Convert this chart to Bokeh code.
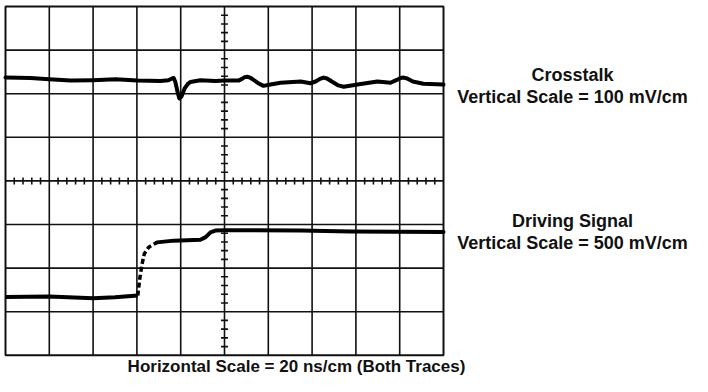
from bokeh.plotting import figure
from bokeh.models import Range1d
from bokeh.core.properties import value
from bokeh.embed import file_html
from bokeh.resources import INLINE

# Oscilloscope graticule: 10 x 8 divisions (cm)
n_cols = 10
n_rows = 8

# Crosstalk trace (time in divisions, level in divisions from bottom of graticule)
xt_t = [0.0, 0.57, 1.0, 1.48, 2.0, 2.51, 3.01, 3.54, 3.72, 3.8, 3.84, 3.88, 3.93, 3.97, 4.02,
        4.09, 4.16, 4.22, 4.45, 4.79, 5.0, 5.32, 5.4, 5.46, 5.52, 5.58, 5.66, 5.77, 5.89,
        6.05, 6.28, 6.74, 6.96, 7.08, 7.18, 7.26, 7.34, 7.45, 7.6, 7.72, 8.04, 8.49, 8.79,
        8.92, 9.02, 9.09, 9.17, 9.3, 9.54, 10.0]
xt_v = [6.37, 6.36, 6.33, 6.30, 6.31, 6.33, 6.30, 6.29, 6.31, 6.35, 6.36, 6.26, 6.03, 5.89,
        5.94, 6.12, 6.22, 6.27, 6.31, 6.29, 6.30, 6.30, 6.34, 6.38, 6.39, 6.37, 6.32, 6.24,
        6.18, 6.21, 6.25, 6.28, 6.24, 6.28, 6.34, 6.37, 6.35, 6.28, 6.19, 6.16, 6.21, 6.28,
        6.25, 6.31, 6.36, 6.37, 6.35, 6.28, 6.23, 6.21]

# Driving signal trace
dr_t = [0.0, 1.0, 2.0, 2.5, 3.02, 3.07, 3.12, 3.17, 3.27, 3.46, 3.84, 4.45, 4.57, 4.68,
        4.79, 5.0, 6.74, 7.88, 10.0]
dr_v = [1.34, 1.35, 1.31, 1.33, 1.37, 1.79, 2.10, 2.33, 2.48, 2.59, 2.63, 2.65, 2.71, 2.82,
        2.86, 2.87, 2.86, 2.84, 2.83]
# fast edge drawn faint (dashed) between these times
edge_start = 3.02
edge_end = 3.46

labels_right = [["Crosstalk", "Vertical Scale = 100 mV/cm"],
                ["Driving Signal", "Vertical Scale = 500 mV/cm"]]
label_bottom = "Horizontal Scale = 20 ns/cm (Both Traces)"

W, H = 692, 376
PX, PY = 43.8, 43.6
x0 = -5 / PX
y1 = n_rows + 6 / PY

def dx(fx):
    return x0 + fx / PX

def dy(fy):
    return y1 - fy / PY

p = figure(width=W, height=H, output_backend="svg", toolbar_location=None,
           x_range=Range1d(x0, x0 + W / PX), y_range=Range1d(y1 - H / PY, y1),
           min_border=0)
p.axis.visible = False
p.grid.visible = False
p.outline_line_color = None
p.background_fill_color = "white"
p.border_fill_color = "white"

# graticule
cols = list(range(n_cols + 1))
rows = list(range(n_rows + 1))
inner_c = cols[1:-1]
inner_r = rows[1:-1]
p.segment(x0=inner_c, y0=[0] * len(inner_c), x1=inner_c, y1=[n_rows] * len(inner_c),
          line_color="#111111", line_width=1.6)
p.segment(x0=[0] * len(inner_r), y0=inner_r, x1=[n_cols] * len(inner_r), y1=inner_r,
          line_color="#111111", line_width=1.6)
p.rect(x=[n_cols / 2], y=[n_rows / 2], width=n_cols, height=n_rows,
       fill_color=None, line_color="#111111", line_width=2)

# centre axes with minor ticks
tl = 0.08
mx = [i / 5 for i in range(1, n_cols * 5) if i % 5]
my = [i / 5 for i in range(1, n_rows * 5) if i % 5]
cy = n_rows / 2
cx = n_cols / 2
p.segment(x0=mx, y0=[cy - tl] * len(mx), x1=mx, y1=[cy + tl] * len(mx),
          line_color="#111111", line_width=1.6)
p.segment(x0=[cx - tl] * len(my), y0=my, x1=[cx + tl] * len(my), y1=my,
          line_color="#111111", line_width=1.6)

# traces
p.line(xt_t, xt_v, line_color="black", line_width=4, line_join="round", line_cap="round")
i0 = dr_t.index(edge_start)
i1 = dr_t.index(edge_end)
p.line(dr_t[:i0 + 1], dr_v[:i0 + 1], line_color="black", line_width=4, line_join="round")
p.line(dr_t[i0:i1 + 1], dr_v[i0:i1 + 1], line_color="black", line_width=3.5,
       line_dash="5 3", line_join="round")
p.line(dr_t[i1:], dr_v[i1:], line_color="black", line_width=4, line_join="round", line_cap="round")

font = value("Liberation Sans")
# right-hand labels
lx = [dx(572)] * 4
ly = [dy(74), dy(96), dy(220), dy(242)]
lt = [labels_right[0][0], labels_right[0][1], labels_right[1][0], labels_right[1][1]]
p.text(x=lx, y=ly, text=lt, text_font=font, text_font_size="18px", text_font_style="bold",
       text_align="center", text_baseline="middle", text_color="#111111")
# bottom label
p.text(x=[dx(296)], y=[dy(366)], text=[label_bottom], text_font=font, text_font_size="17px",
       text_font_style="bold", text_align="center", text_baseline="middle", text_color="#111111")

open("out.html", "w").write(file_html(p, INLINE))
